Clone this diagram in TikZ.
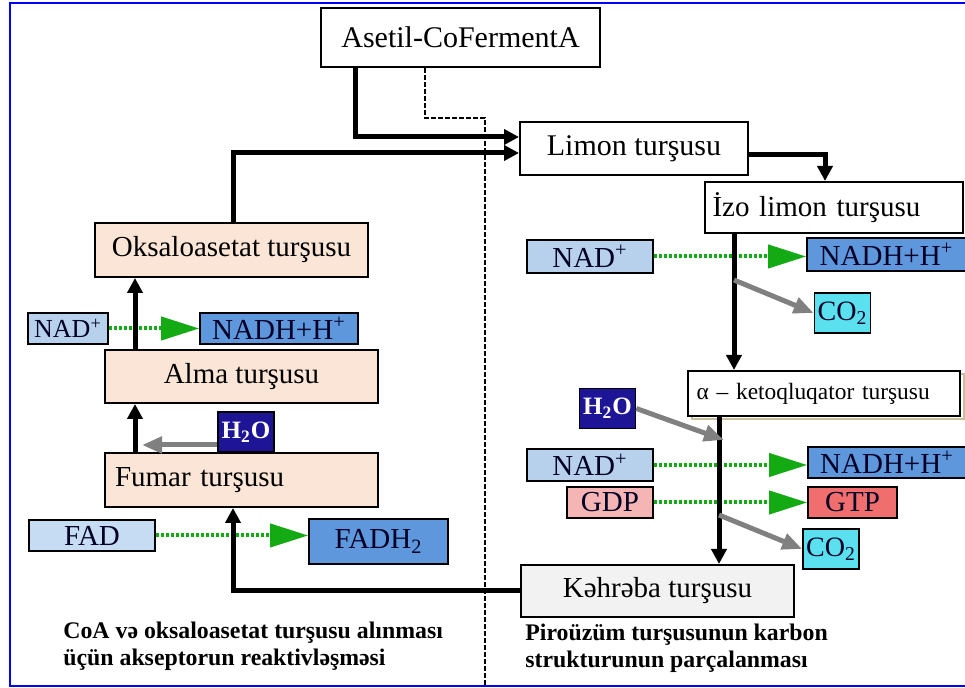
\documentclass[tikz,border=0pt]{standalone}
\usepackage{fontspec}
\setmainfont{Liberation Serif}
\usetikzlibrary{arrows.meta,shadows}
\definecolor{peach}{HTML}{FBE5D6}
\definecolor{palegrey}{HTML}{F2F2F2}
\definecolor{nadfill}{HTML}{B7D0EC}
\definecolor{fadfill}{HTML}{C6DCF2}
\definecolor{nadhfill}{HTML}{5E97DC}
\definecolor{h2ofill}{HTML}{1E1496}
\definecolor{co2fill}{HTML}{5BE0F0}
\definecolor{gdpfill}{HTML}{F5B5B5}
\definecolor{gtpfill}{HTML}{F06E6E}
\definecolor{redoxgreen}{HTML}{14AA14}
\definecolor{shadowcol}{HTML}{C8C09A}

\begin{document}
\begin{tikzpicture}[x=0.5pt,y=-0.5pt,
  box/.style={draw,line width=1pt,inner sep=0pt,align=center},
  bigbox/.style={box,font=\fontsize{14.5}{17}\selectfont},
  tag/.style={box,line width=0.8pt,text=black!85!blue,font=\fontsize{14.5}{17}\selectfont},
  gas/.style={tag,minimum width=28pt,minimum height=20pt,font=\fontsize{14}{16}\selectfont},
  water/.style={gas,fill=h2ofill,text=white,font=\bfseries\fontsize{12.5}{14}\selectfont},
  flow/.style={line width=2.5pt,-{Triangle[length=7.5pt,width=7.5pt]}},
  redox/.style={line width=2pt,dash pattern=on 1.6pt off 0.9pt,redoxgreen,
    -{Triangle[length=19pt,width=11.5pt]}},
  side/.style={line width=2.5pt,gray,-{Triangle[length=10pt,width=8pt]}},
  caption/.style={align=left,inner sep=0pt,anchor=north west,
    font=\bfseries\fontsize{11.9}{13.2}\selectfont}]
\useasboundingbox (0,0) rectangle (965,688);
\draw[blue,line width=1pt] (966,3) -- (10,3) -- (10,686) -- (966,686);

% main boxes of the cycle
\node[box,fill=white,minimum width=139.5pt,minimum height=29.5pt,font=\fontsize{15}{18}\selectfont] (asetil) at (460.5,37.5) {Asetil-CoFermentA};
\node[box,fill=white,minimum width=114pt,minimum height=26.5pt,font=\fontsize{15}{18}\selectfont] (limon) at (634,148.5) {Limon turşusu};
\node[box,fill=white,text width=121pt,inner xsep=4pt,minimum height=25.5pt,align=left,font=\fontsize{14.5}{17}\selectfont] (izo) at (833.5,207.5) {İzo limon turşusu};
\node[box,fill=white,text width=127pt,inner xsep=4.5pt,minimum height=22.5pt,align=left,font=\fontsize{11.7}{13}\selectfont,
  copy shadow={shadow xshift=2pt,shadow yshift=-1.5pt,draw=shadowcol,fill=white}] (alpha) at (823.5,393.5) {α – ketoqluqator turşusu};
\node[bigbox,fill=palegrey,minimum width=136.5pt,minimum height=26pt] (kehreba) at (657.5,591) {Kəhrəba turşusu};
\node[bigbox,fill=peach,text width=126.5pt,inner xsep=5pt,minimum height=27pt,align=left] (fumar) at (241.5,480) {Fumar turşusu};
\node[bigbox,fill=peach,minimum width=136.5pt,minimum height=26.5pt] (alma) at (241.5,376.5) {Alma turşusu};
\node[bigbox,fill=peach,minimum width=136.5pt,minimum height=27pt] (oksalo) at (231.5,250) {Oksaloasetat turşusu};

% cofactors, left side
\node[tag,fill=nadfill,minimum width=40pt,minimum height=15.5pt,font=\fontsize{13}{15}\selectfont] (nadL) at (68,328.5) {NAD\textsuperscript{+}};
\node[tag,fill=nadhfill,minimum width=79pt,minimum height=15.5pt] (nadhL) at (279,328.5) {NADH+H\textsuperscript{+}};
\node[water] (h2oL) at (246,432) {H\textsubscript{2}O};
\node[tag,fill=fadfill,minimum width=63pt,minimum height=15.5pt] (fad) at (92,535.5) {FAD};
\node[tag,fill=nadhfill,minimum width=69.5pt,minimum height=22.5pt] (fadh) at (378.5,541.5) {FADH\textsubscript{2}};

% cofactors, right side
\node[tag,fill=nadfill,minimum width=63pt,minimum height=16.5pt] (nadR1) at (590,256.5) {NAD\textsuperscript{+}};
\node[tag,fill=nadhfill,minimum width=79.5pt,minimum height=16.5pt] (nadhR1) at (886.5,254.5) {NADH+H\textsuperscript{+}};
\node[gas,fill=co2fill] (co2a) at (842.5,313) {CO\textsubscript{2}};
\node[water] (h2oR) at (607.5,408.5) {H\textsubscript{2}O};
\node[tag,fill=nadfill,minimum width=63pt,minimum height=16pt] (nadR2) at (590,465) {NAD\textsuperscript{+}};
\node[tag,fill=nadhfill,minimum width=79pt,minimum height=15.5pt] (nadhR2) at (887,462.5) {NADH+H\textsuperscript{+}};
\node[tag,fill=gdpfill,minimum width=43pt,minimum height=15.5pt] (gdp) at (610,502.5) {GDP};
\node[tag,fill=gtpfill,minimum width=44.5pt,minimum height=15.5pt] (gtp) at (852.5,502.5) {GTP};
\node[gas,fill=co2fill] (co2b) at (831,549) {CO\textsubscript{2}};

% captions
\node[caption] (capL) at (63,622) {CoA və oksaloasetat turşusu alınması\\üçün akseptorun reaktivləşməsi};
\node[caption] (capR) at (525,624) {Piroüzüm turşusunun karbon\\strukturunun parçalanması};

% dividing line
\coordinate (dturn) at (485,118);
\coordinate (dend) at (485,686);
\draw[line width=0.6pt,dash pattern=on 2.5pt off 1pt] (asetil.south -| 425,0) |- (dturn) -- (dend);

% redox transfers
\draw[redox] (nadL.east) -- (nadhL.west);
\draw[redox] (fad.east) -- (fadh.west |- fad.east);
\draw[redox] (nadR1.east) -- (nadhR1.west |- nadR1.east);
\draw[redox] (nadR2.east) -- (nadhR2.west |- nadR2.east);
\draw[redox] (gdp.east) -- (gtp.west);

% main flow
\draw[flow] (asetil.south -| 355,0) |- (limon.west |- 0,137);
\draw[flow] (oksalo.north -| 233,0) |- (limon.west |- 0,153);
\draw[flow] (limon.east |- 0,155) -| (izo.north -| 825,0);
\draw[flow] (izo.south -| 734,0) -- (alpha.north -| 734,0);
\draw[flow] (alpha.south -| 719,0) -- (kehreba.north -| 719,0);
\draw[flow] (kehreba.west) -| (fumar.south -| 233,0);
\draw[flow] (fumar.north -| 135,0) -- (alma.south -| 135,0);
\draw[flow] (alma.north -| 135,0) -- (oksalo.south -| 135,0);

% water in, CO2 out
\coordinate (w1) at (142,445);
\coordinate (w2) at (724,440);
\coordinate (c1) at (734,280);
\coordinate (c2) at (719,515);
\draw[side] (h2oL.west |- 0,445) -- (w1);
\draw[side] (h2oR.east) -- (w2);
\draw[side] (c1) -- (co2a.west);
\draw[side] (c2) -- (co2b.west);
\end{tikzpicture}
\end{document}
